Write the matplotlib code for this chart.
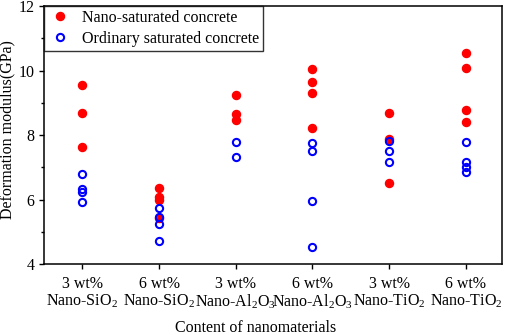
import matplotlib
matplotlib.use("Agg")
import matplotlib.pyplot as plt
from matplotlib.ticker import MultipleLocator

plt.rcParams['font.family'] = ['Liberation Serif', 'DejaVu Serif']
plt.rcParams['mathtext.fontset'] = 'custom'
plt.rcParams['mathtext.rm'] = 'Liberation Serif'
plt.rcParams['mathtext.it'] = 'Liberation Serif:italic'

categories = ["3 wt%\nNano-SiO$_2$", "6 wt%\nNano-SiO$_2$", "3 wt%\nNano-Al$_2$O$_3$",
              "6 wt%\nNano-Al$_2$O$_3$", "3 wt%\nNano-TiO$_2$", "6 wt%\nNano-TiO$_2$"]
nano = [[9.55, 8.67, 7.64],
        [6.35, 6.08, 6.00, 5.43],
        [9.23, 8.65, 8.47],
        [10.04, 9.65, 9.31, 8.21],
        [8.69, 7.89, 6.52],
        [10.53, 10.09, 8.78, 8.41]]
ordinary = [[6.79, 6.32, 6.22, 5.93],
            [5.73, 5.47, 5.23, 4.71],
            [7.79, 7.31],
            [7.74, 7.50, 5.95, 4.52],
            [7.80, 7.50, 7.17],
            [7.77, 7.17, 7.02, 6.84]]
series_names = ["Nano-saturated concrete", "Ordinary saturated concrete"]
y_label = "Deformation modulus(GPa)"
x_label = "Content of nanomaterials"

FS = 11.5
fig = plt.figure(figsize=(5.05, 3.35), dpi=100)
ax = fig.add_axes([0.0871, 0.2119, 0.9069, 0.7701])

xn, yn, xo, yo = [], [], [], []
for i, vals in enumerate(nano):
    xn += [i + 1] * len(vals)
    yn += vals
for i, vals in enumerate(ordinary):
    xo += [i + 1] * len(vals)
    yo += vals

ax.plot(xn, yn, 'o', ls='none', color='#ff0000', markersize=5.8, label=series_names[0], zorder=3)
ax.plot(xo, yo, 'o', ls='none', markerfacecolor='none', markeredgecolor='#0000ff',
        markeredgewidth=1.5, markersize=5.2, label=series_names[1], zorder=4)

ax.set_xlim(0.5, 6.47)
ax.set_ylim(4, 12)
ax.set_xticks(range(1, 7))
ax.set_xticklabels(categories, fontsize=FS, linespacing=1.05)
ax.yaxis.set_major_locator(MultipleLocator(2))
ax.yaxis.set_minor_locator(MultipleLocator(1))
ax.tick_params(axis='both', which='major', direction='out', length=3.8, width=1, labelsize=FS)
ax.tick_params(axis='y', which='minor', direction='out', length=2.5, width=1)
ax.tick_params(axis='x', pad=5)
ax.tick_params(axis='y', pad=3)
for s in ax.spines.values():
    s.set_linewidth(1.1)

ax.set_ylabel(y_label, fontsize=FS)
ax.set_xlabel(x_label, fontsize=FS)
ax.xaxis.set_label_coords(0.462, -0.218)
ax.yaxis.set_label_coords(-0.062, 0.52)

leg = ax.legend(loc='upper left', bbox_to_anchor=(0, 1), borderaxespad=0, fontsize=FS,
                frameon=True, fancybox=False, edgecolor='black', handletextpad=0.6,
                borderpad=0.25, labelspacing=0.3, handlelength=1.5)
leg.get_frame().set_linewidth(1.0)

fig.savefig("out.png", dpi=100)
